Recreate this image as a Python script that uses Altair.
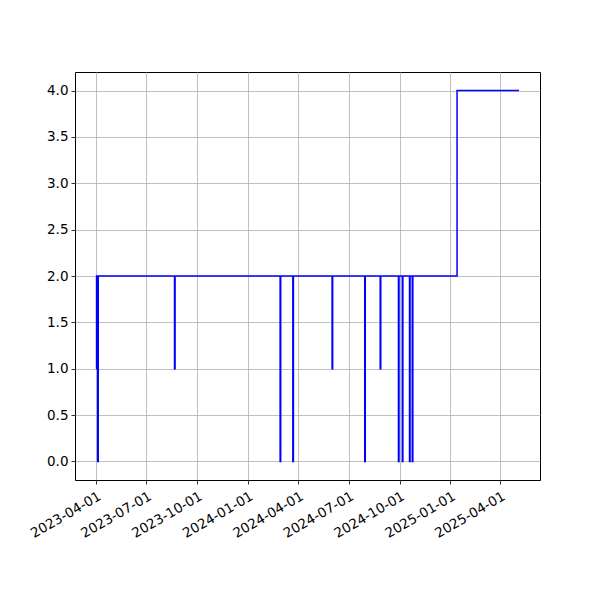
import altair as alt
import pandas as pd

dates = ["2023-04-01", "2023-04-02", "2023-04-04", "2023-04-05",
         "2023-08-21", "2023-08-22",
         "2024-02-28", "2024-02-29",
         "2024-03-22", "2024-03-23",
         "2024-06-01", "2024-06-02",
         "2024-07-30", "2024-07-31",
         "2024-08-27", "2024-08-28",
         "2024-09-29", "2024-09-30",
         "2024-10-06", "2024-10-07",
         "2024-10-19", "2024-10-20",
         "2024-10-24", "2024-10-25",
         "2025-01-13", "2025-05-05"]
values = [1, 2, 0, 2,
          1, 2,
          0, 2,
          0, 2,
          1, 2,
          0, 2,
          1, 2,
          0, 2,
          0, 2,
          0, 2,
          0, 2,
          4, 4]

tick_dates = [(2023, 4), (2023, 7), (2023, 10), (2024, 1), (2024, 4),
              (2024, 7), (2024, 10), (2025, 1), (2025, 4)]
y_ticks = [0.0, 0.5, 1.0, 1.5, 2.0, 2.5, 3.0, 3.5, 4.0]

df = pd.DataFrame({"date": dates, "value": values})

x_axis = alt.Axis(
    values=[alt.DateTime(year=y, month=m, date=1, utc=True) for y, m in tick_dates],
    labelExpr="utcFormat(datum.value, '%Y-%m-%d')", title=None,
    labelAngle=330, labelAlign="right", labelBaseline="top",
    labelFont="DejaVu Sans", labelFontSize=13.5, labelColor="black",
    tickColor="black", tickSize=4, tickWidth=0.8, labelPadding=5,
    domain=False, grid=True, gridColor="#b0b0b0", gridWidth=0.8,
    labelOverlap=False, labelFlush=False,
)
y_axis = alt.Axis(
    values=y_ticks, format=".1f", title=None,
    labelFont="DejaVu Sans", labelFontSize=13.5, labelColor="black",
    tickColor="black", tickSize=4, tickWidth=0.8, labelPadding=3,
    domain=False, grid=True, gridColor="#b0b0b0", gridWidth=0.8,
    labelOverlap=False, labelFlush=False,
)

chart = alt.Chart(df).mark_line(
    color="#0000ff", strokeWidth=1.5, interpolate="step-after", clip=True
).encode(
    x=alt.X("date:T", axis=x_axis,
            scale=alt.Scale(type="utc",
                            domain=[alt.DateTime(year=2023, month=2, date=22, utc=True),
                                    alt.DateTime(year=2025, month=6, date=12, utc=True)])),
    y=alt.Y("value:Q", axis=y_axis, scale=alt.Scale(domain=[-0.2, 4.2], nice=False, zero=False)),
).properties(
    width=465, height=408,
    background="white",
    autosize=alt.AutoSizeParams(type="none"),
    padding={"left": 67, "top": 64, "right": 52, "bottom": 112},
).configure_view(
    stroke="black", strokeWidth=1
)

chart.save("out.html", embed_options={"renderer": "svg", "actions": False})
